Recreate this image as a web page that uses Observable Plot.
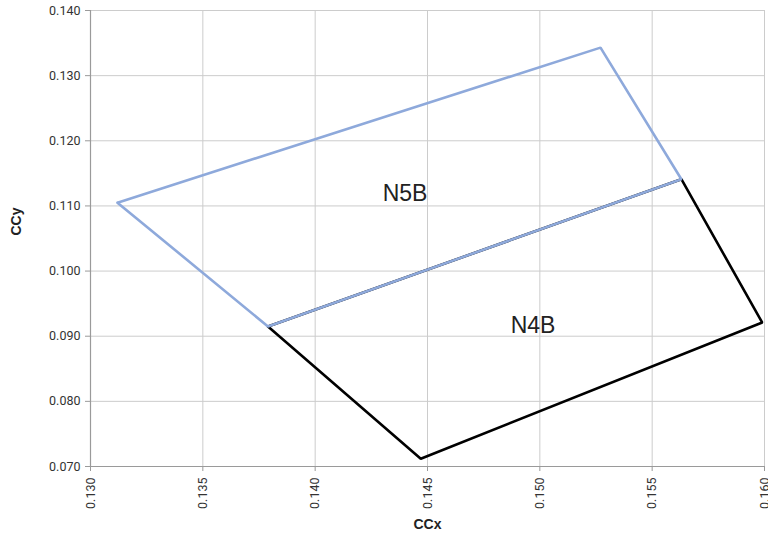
<!DOCTYPE html>
<html>
<head>
<meta charset="utf-8">
<script src="https://cdn.jsdelivr.net/npm/d3@7"></script>
<script src="https://cdn.jsdelivr.net/npm/@observablehq/plot@0.6"></script>
<style>
  html, body { margin: 0; padding: 0; background: #fff; }
  #chart { width: 768px; height: 541px; }
  svg { font-family: Roboto, "Liberation Sans", sans-serif; }
</style>
</head>
<body>
<div id="chart"></div>
<script>
// N5B polygon (closed)
const n5bX = [0.1312, 0.1527, 0.1563, 0.1379, 0.1312];
const n5bY = [0.1105, 0.1343, 0.1141, 0.0915, 0.1105];
// N4B polygon (closed)
const n4bX = [0.1379, 0.1563, 0.1599, 0.1447, 0.1379];
const n4bY = [0.0915, 0.1141, 0.0921, 0.0712, 0.0915];
// Region labels
const labelNames = ["N5B", "N4B"];
const labelX = [0.1440, 0.1497];
const labelY = [0.1119, 0.0917];
// Tick values
const xTicks = [0.130, 0.135, 0.140, 0.145, 0.150, 0.155, 0.160];
const yTicks = [0.070, 0.080, 0.090, 0.100, 0.110, 0.120, 0.130, 0.140];

const n5b = n5bX.map((x, i) => ({x, y: n5bY[i]}));
const n4b = n4bX.map((x, i) => ({x, y: n4bY[i]}));
const labels = labelNames.map((name, i) => ({name, x: labelX[i], y: labelY[i]}));

const fmt = d3.format(".3f");

const chart = Plot.plot({
  width: 768,
  height: 541,
  marginLeft: 90,
  marginRight: 4,
  marginTop: 10,
  marginBottom: 75,
  style: {fontFamily: "Roboto, 'Liberation Sans', sans-serif", fontSize: "12px", color: "#333"},
  x: {domain: [0.130, 0.160], ticks: xTicks},
  y: {domain: [0.070, 0.140], ticks: yTicks},
  marks: [
    Plot.gridX(xTicks, {stroke: "#cccccc", strokeOpacity: 1, strokeWidth: 1}),
    Plot.gridY(yTicks, {stroke: "#cccccc", strokeOpacity: 1, strokeWidth: 1}),
    Plot.ruleX([0.130], {stroke: "#9a9a9a", strokeWidth: 1.2}),
    Plot.ruleY([0.070], {stroke: "#9a9a9a", strokeWidth: 1.2}),
    Plot.axisY(yTicks, {tickFormat: fmt, tickSize: 5, tickPadding: 5, stroke: "#9a9a9a", fill: "#333", fontSize: 12.5, label: null}),
    Plot.axisX(xTicks, {tickFormat: fmt, tickSize: 5, tickPadding: 6, tickRotate: -90, stroke: "#9a9a9a", fill: "#333", fontSize: 12.5, label: null}),
    Plot.line(n4b, {x: "x", y: "y", stroke: "#000000", strokeWidth: 2.6, strokeLinejoin: "miter"}),
    Plot.line(n5b, {x: "x", y: "y", stroke: "#8EA9DB", strokeWidth: 2.6, strokeLinejoin: "miter"}),
    Plot.text(labels, {x: "x", y: "y", text: "name", fontSize: 23, fontFamily: "'Liberation Sans', Arial, sans-serif", fill: "#222"}),
    Plot.text(["CCx"], {frameAnchor: "bottom", dy: 62, fontWeight: "bold", fontSize: 14, fontFamily: "'Liberation Sans', Arial, sans-serif", fill: "#222"}),
    Plot.text(["CCy"], {frameAnchor: "left", dx: -74, dy: -3, rotate: -90, fontWeight: "bold", fontSize: 14, fontFamily: "'Liberation Sans', Arial, sans-serif", fill: "#222"})
  ]
});
document.getElementById("chart").appendChild(chart);
</script>
</body>
</html>
